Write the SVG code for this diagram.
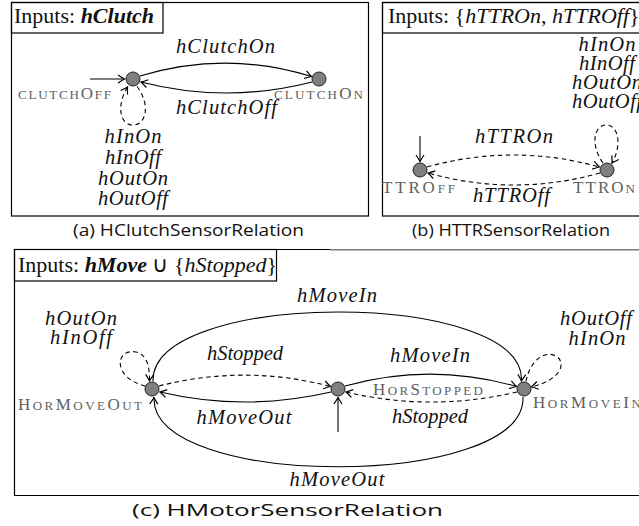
<svg xmlns="http://www.w3.org/2000/svg" width="639" height="526" viewBox="0 0 639 526">
  <style>
    .frame { fill: none; stroke: #000; stroke-width: 1.2; }
    .state { fill: #7f7f7f; stroke: #222; stroke-width: 1; }
    .edge { fill: none; stroke: #000; stroke-width: 1.1; marker-end: url(#arr); }
    .dash { stroke-dasharray: 4.5 3.5; }
    .lbl { font-family: "Liberation Serif", "Times New Roman", serif; font-style: italic; font-size: 20.5px; fill: #111; }
    .inp { font-family: "Liberation Serif", "Times New Roman", serif; font-size: 22px; fill: #111; }
    .sc { font-family: "Liberation Serif", "Times New Roman", serif; fill: #606060; font-size: 13px; }
    .big { font-size: 17px; }
    .cap { font-family: "Open Sans", "Noto Sans", sans-serif; font-size: 16.5px; fill: #111; }
  </style>
  <defs>
    <marker id="arr" viewBox="-8 -5 9 10" refX="0" refY="0" markerWidth="9" markerHeight="10" markerUnits="userSpaceOnUse" orient="auto">
      <path d="M -6.5 -4 Q -2 -1 0 0 Q -2 1 -6.5 4" fill="none" stroke="#000" stroke-width="1.2"/>
    </marker>
  </defs>

  <!-- (a) clutch sensor relation -->
  <g id="panel-a">
    <rect class="frame" x="11.5" y="2.5" width="357" height="213.5"/>
    <rect class="frame" x="11.5" y="2.5" width="151.5" height="30.5"/>
    <text class="inp" x="14" y="23">Inputs: <tspan font-weight="bold" font-style="italic">hClutch</tspan></text>
  </g>
  <g id="clutchOff">
    <circle class="state" cx="133" cy="79" r="7"/>
    <text class="sc" x="18" y="99" textLength="93" lengthAdjust="spacing">CLUTCH<tspan class="big">O</tspan>FF</text>
  </g>
  <g id="clutchOn">
    <circle class="state" cx="319" cy="79" r="7"/>
    <text class="sc" x="274" y="99" textLength="89" lengthAdjust="spacing">CLUTCH<tspan class="big">O</tspan>N</text>
  </g>
  <g id="edges-a">
    <path class="edge" d="M 90 79 L 124.5 79"/>
    <path class="edge" d="M 140 76 Q 226 50 311.5 76.5"/>
    <path class="edge" d="M 312 82 Q 226 104 141 82"/>
    <path class="edge dash" d="M 137 86.5 C 151 105, 146 125, 133 125 C 120 125, 116 106, 127.5 87"/>
  </g>
  <g id="labels-a">
    <text class="lbl" x="176" y="53" textLength="99" lengthAdjust="spacing">hClutchOn</text>
    <text class="lbl" x="176" y="114" textLength="101" lengthAdjust="spacing">hClutchOff</text>
    <text class="lbl" x="133" y="143" text-anchor="middle" textLength="57" lengthAdjust="spacing">hInOn</text>
    <text class="lbl" x="133" y="164" text-anchor="middle" textLength="56" lengthAdjust="spacing">hInOff</text>
    <text class="lbl" x="133" y="185" text-anchor="middle" textLength="70" lengthAdjust="spacing">hOutOn</text>
    <text class="lbl" x="133" y="205" text-anchor="middle" textLength="70" lengthAdjust="spacing">hOutOff</text>
  </g>
  <text class="cap" x="73" y="236" textLength="231" lengthAdjust="spacingAndGlyphs">(a) HClutchSensorRelation</text>

  <!-- (b) TTR sensor relation -->
  <g id="panel-b">
    <rect class="frame" x="382.5" y="2.5" width="270" height="213.5"/>
    <rect class="frame" x="382.5" y="2.5" width="270" height="30.5"/>
    <text class="inp" x="388" y="23">Inputs: {<tspan font-style="italic">hTTROn</tspan>, <tspan font-style="italic">hTTROff</tspan>}</text>
  </g>
  <g id="ttrOff">
    <circle class="state" cx="420" cy="170" r="7"/>
    <text class="sc" x="382" y="193" textLength="73" lengthAdjust="spacing"><tspan class="big">TTRO</tspan>FF</text>
  </g>
  <g id="ttrOn">
    <circle class="state" cx="607" cy="170" r="7"/>
    <text class="sc" x="573" y="193" textLength="62" lengthAdjust="spacing"><tspan class="big">TTRO</tspan>N</text>
  </g>
  <g id="edges-b">
    <path class="edge" d="M 420 136 L 420 161.5"/>
    <path class="edge dash" d="M 427 167 Q 513 143 599.5 167"/>
    <path class="edge dash" d="M 600 173 Q 514 197 428 173"/>
    <path class="edge dash" d="M 603 163 C 590 145, 594 125, 606 125 C 619 125, 622 146, 612 163"/>
  </g>
  <g id="labels-b">
    <text class="lbl" x="475" y="143" textLength="78" lengthAdjust="spacing">hTTROn</text>
    <text class="lbl" x="473" y="202" textLength="77" lengthAdjust="spacing">hTTROff</text>
    <text class="lbl" x="607" y="51" text-anchor="middle" textLength="57" lengthAdjust="spacing">hInOn</text>
    <text class="lbl" x="607" y="70" text-anchor="middle" textLength="56" lengthAdjust="spacing">hInOff</text>
    <text class="lbl" x="607" y="89" text-anchor="middle" textLength="70" lengthAdjust="spacing">hOutOn</text>
    <text class="lbl" x="607" y="108" text-anchor="middle" textLength="70" lengthAdjust="spacing">hOutOff</text>
  </g>
  <text class="cap" x="412" y="236" textLength="198" lengthAdjust="spacingAndGlyphs">(b) HTTRSensorRelation</text>

  <!-- (c) motor sensor relation -->
  <g id="panel-c">
    <path class="frame" d="M 330 249.5 L 14.5 249.5 L 14.5 495.5 L 650 495.5"/>
    <path d="M 330 249.8 L 650 249.8" fill="none" stroke="#7a7a7a" stroke-width="1.6"/>
    <rect class="frame" x="14.5" y="249.5" width="262" height="31.5"/>
    <text class="inp" x="18" y="272">Inputs: <tspan font-weight="bold" font-style="italic">hMove</tspan> ∪ {<tspan font-style="italic">hStopped</tspan>}</text>
  </g>
  <g id="horMoveOut">
    <circle class="state" cx="152" cy="389" r="7"/>
    <text class="sc" x="18" y="410" textLength="124" lengthAdjust="spacing"><tspan class="big">H</tspan>OR<tspan class="big">M</tspan>OVE<tspan class="big">O</tspan>UT</text>
  </g>
  <g id="horStopped">
    <circle class="state" cx="338" cy="389" r="7"/>
    <text class="sc" x="373" y="395" textLength="110" lengthAdjust="spacing"><tspan class="big">H</tspan>OR<tspan class="big">S</tspan>TOPPED</text>
  </g>
  <g id="horMoveIn">
    <circle class="state" cx="524" cy="389" r="7"/>
    <text class="sc" x="533" y="408" textLength="108" lengthAdjust="spacing"><tspan class="big">H</tspan>OR<tspan class="big">M</tspan>OVE<tspan class="big">I</tspan>N</text>
  </g>
  <g id="edges-c">
    <path class="edge" d="M 338 432 L 338 397.5"/>
    <path class="edge" d="M 153 381.5 C 150 289, 526 289, 521.5 381"/>
    <path class="edge" d="M 523 397 C 526 490, 150 490, 154 397.5"/>
    <path class="edge dash" d="M 159 386 Q 245 364 330.5 386.5"/>
    <path class="edge" d="M 331 392 Q 245 412 160 392"/>
    <path class="edge" d="M 345 386 Q 431 362 516.5 386.5"/>
    <path class="edge dash" d="M 517 392 Q 431 412 346 392"/>
    <path class="edge dash" d="M 145.5 386 C 112 378, 115 348, 136 352 C 147 354, 150 368, 149.5 381"/>
    <path class="edge dash" d="M 526 381.5 C 530 360, 545 350, 556 356 C 566 362, 563 379, 531.5 387"/>
  </g>
  <g id="labels-c">
    <text class="lbl" x="337" y="302" text-anchor="middle" textLength="80" lengthAdjust="spacing">hMoveIn</text>
    <text class="lbl" x="337" y="486" text-anchor="middle" textLength="95" lengthAdjust="spacing">hMoveOut</text>
    <text class="lbl" x="245" y="360" text-anchor="middle" textLength="76" lengthAdjust="spacing">hStopped</text>
    <text class="lbl" x="244" y="424" text-anchor="middle" textLength="95" lengthAdjust="spacing">hMoveOut</text>
    <text class="lbl" x="430" y="362" text-anchor="middle" textLength="80" lengthAdjust="spacing">hMoveIn</text>
    <text class="lbl" x="430" y="423" text-anchor="middle" textLength="76" lengthAdjust="spacing">hStopped</text>
    <text class="lbl" x="81" y="325" text-anchor="middle" textLength="72" lengthAdjust="spacing">hOutOn</text>
    <text class="lbl" x="81" y="344" text-anchor="middle" textLength="62" lengthAdjust="spacing">hInOff</text>
    <text class="lbl" x="596" y="325" text-anchor="middle" textLength="72" lengthAdjust="spacing">hOutOff</text>
    <text class="lbl" x="597" y="345" text-anchor="middle" textLength="57" lengthAdjust="spacing">hInOn</text>
  </g>
  <text class="cap" x="132" y="516" textLength="311" lengthAdjust="spacingAndGlyphs">(c) HMotorSensorRelation</text>
</svg>
